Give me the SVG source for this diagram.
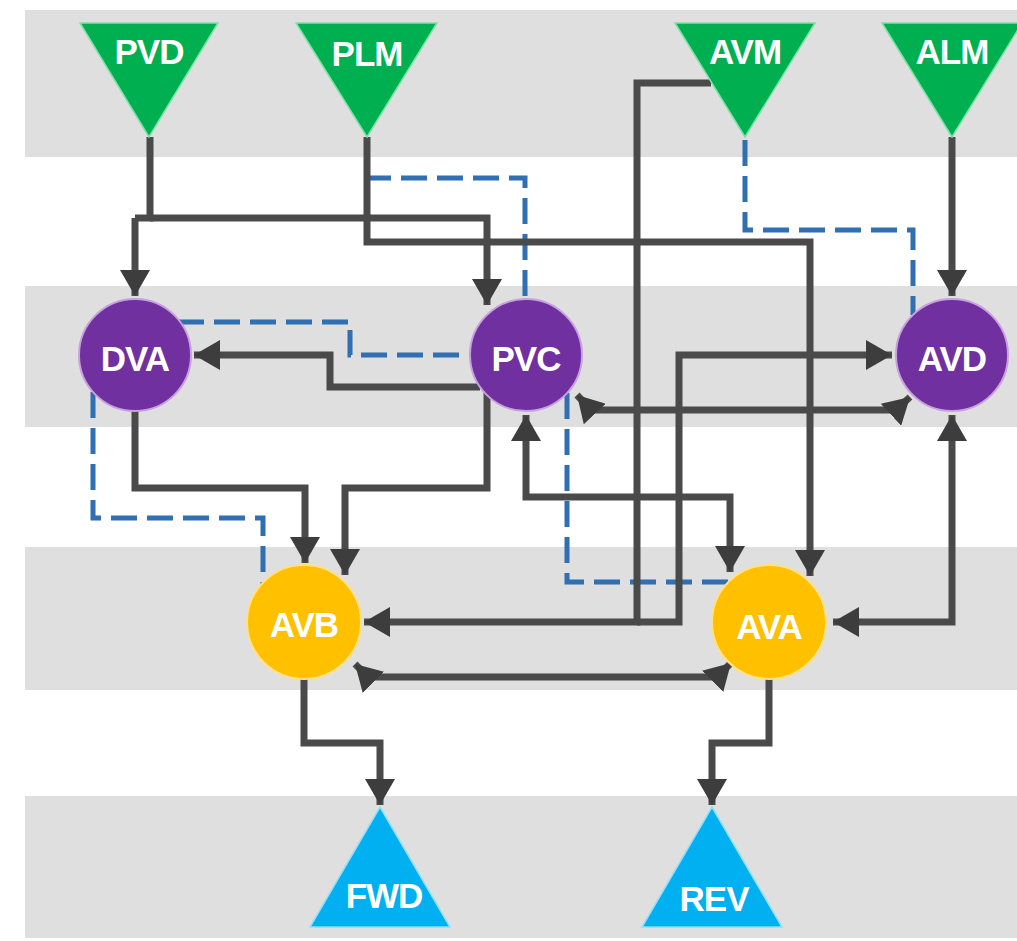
<svg xmlns="http://www.w3.org/2000/svg" width="1017" height="941" viewBox="0 0 1017 941">
<style>
.band{fill:#dfdfdf}
.ln{fill:none;stroke:#4a4a4a;stroke-width:7;stroke-linejoin:miter}
.ar{marker-end:url(#ah)}
.ar2{marker-start:url(#ah);marker-end:url(#ah)}
.ds{fill:none;stroke:#2f6fb2;stroke-width:5;stroke-dasharray:26 10}
.src{fill:#00b050;stroke:#7fe0a8;stroke-width:1.5}
.snk{fill:#00b0f0;stroke:#8fe0ff;stroke-width:1.5}
.pur{fill:#7030a0;stroke:#c8a0e0;stroke-width:2}
.yel{fill:#ffc000;stroke:#ffe08a;stroke-width:2}
.t{font-family:"Liberation Sans",Arial,sans-serif;font-weight:bold;font-size:35px;fill:#ffffff;text-anchor:middle;letter-spacing:-1px}
</style>
<defs>
<marker id="ah" viewBox="0 0 26 30" refX="26" refY="15" markerWidth="26" markerHeight="30" markerUnits="userSpaceOnUse" orient="auto-start-reverse">
<path d="M0,0 L26,15 L0,30 z" fill="#3d3d3d"/>
</marker>
</defs>
<rect width="1017" height="941" fill="#ffffff"/>
<g id="bands">
<rect class="band" x="25" y="10" width="992" height="147"/>
<rect class="band" x="25" y="286" width="992" height="141"/>
<rect class="band" x="25" y="547" width="992" height="143"/>
<rect class="band" x="25" y="796" width="992" height="142"/>
</g>
<g id="connectors">
<path class="ds" d="M367,140 V178 H525 V300"/>
<path class="ds" d="M745,140 V230 H913 V315"/>
<path class="ds" d="M178,322 H350 V355 H472"/>
<path class="ds" d="M93,392 V518 H263 V590"/>
<path class="ds" d="M567,393 V582 H732"/>
<path class="ln" d="M150,137 V218 H135"/>
<path class="ln ar" d="M135,218 V296"/>
<path class="ln ar" d="M150,218 H487 V305"/>
<path class="ln ar" d="M367,137 V242 H810 V576"/>
<path class="ln ar" d="M711,83 H637 V622 H364"/>
<path class="ln ar" d="M637,622 H679 V355 H892"/>
<path class="ln ar" d="M952,137 V296"/>
<path class="ln ar" d="M480,387 H330 V355 H194"/>
<path class="ln ar" d="M487,390 V488 H345 V575"/>
<path class="ln ar" d="M135,405 V488 H305 V563"/>
<path class="ln ar2" d="M577,395 L591,410 H896 L910,397"/>
<path class="ln ar2" d="M526,415 V497 H730 V572"/>
<path class="ln ar2" d="M952,415 V622 H833"/>
<path class="ln ar2" d="M355,664 L368,677 H717 L731,663"/>
<path class="ln ar" d="M304,670 V743 H380 V805"/>
<path class="ln ar" d="M769,670 V743 H712 V805"/>
</g>
<g id="PVD"><polygon class="src" points="80,23 218,23 149,137"/><text class="t" x="149" y="64">PVD</text></g>
<g id="PLM"><polygon class="src" points="296,23 437,23 367,137"/><text class="t" x="367" y="66">PLM</text></g>
<g id="AVM"><polygon class="src" points="675,23 815,23 745,137"/><text class="t" x="745" y="64">AVM</text></g>
<g id="ALM"><polygon class="src" points="882,23 1022,23 952,137"/><text class="t" x="952" y="64">ALM</text></g>
<g id="DVA"><circle class="pur" cx="135" cy="355" r="56"/><text class="t" x="135" y="371">DVA</text></g>
<g id="PVC"><circle class="pur" cx="526" cy="355" r="56"/><text class="t" x="526" y="371">PVC</text></g>
<g id="AVD"><circle class="pur" cx="952" cy="355" r="56"/><text class="t" x="952" y="371">AVD</text></g>
<g id="AVB"><circle class="yel" cx="304" cy="622" r="57"/><text class="t" x="304" y="637">AVB</text></g>
<g id="AVA"><circle class="yel" cx="769" cy="622" r="57"/><text class="t" x="769" y="639">AVA</text></g>
<g id="FWD"><polygon class="snk" points="380,807 450,927 310,927"/><text class="t" x="384" y="908">FWD</text></g>
<g id="REV"><polygon class="snk" points="712,807 782,927 642,927"/><text class="t" x="714" y="911">REV</text></g>
</svg>
